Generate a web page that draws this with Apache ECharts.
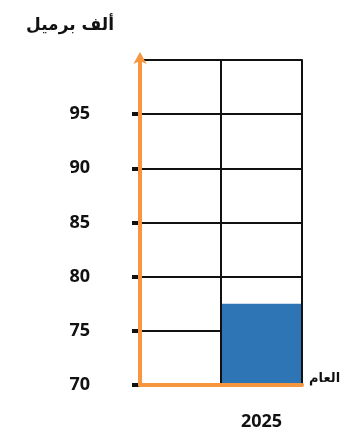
<!DOCTYPE html>
<html>
<head>
<meta charset="utf-8">
<script src="https://cdn.jsdelivr.net/npm/echarts@6/dist/echarts.min.js"></script>
<style>
  html, body { margin: 0; padding: 0; background: #fff; }
  #chart { width: 347px; height: 433px; }
</style>
</head>
<body>
<div id="chart"></div>
<script>
// Production in thousand barrels per year
const years = ['', '2025'];
const production = ['-', 77.5];
const yTicks = [70, 75, 80, 85, 90, 95];
const unitLabel = 'ألف برميل';
const yearLabel = 'العام';

const orange = '#f7963e';
const ink = '#111';
const chart = echarts.init(document.getElementById('chart'));
chart.setOption({
  animation: false,
  title: {
    text: unitLabel,
    left: 21,
    top: 12,
    textStyle: { fontFamily: 'DejaVu Sans', fontWeight: 'bold', fontSize: 17, color: ink }
  },
  grid: { left: 140, right: 45, top: 60, bottom: 48 },
  xAxis: [{
    type: 'category',
    data: years,
    name: yearLabel,
    nameLocation: 'end',
    nameGap: 7,
    nameTextStyle: { fontFamily: 'DejaVu Sans', fontWeight: 'bold', fontSize: 13, color: ink, verticalAlign: 'bottom' },
    axisLine: { show: true, lineStyle: { color: orange, width: 4 } },
    axisTick: { show: false },
    axisLabel: { margin: 28, fontFamily: 'Open Sans', fontWeight: 'bold', fontSize: 18, color: ink },
    splitLine: { show: true, lineStyle: { color: ink, width: 2 } },
    z: 3
  }, {
    // top border of the grid
    type: 'category',
    position: 'top',
    data: years,
    axisLine: { show: true, lineStyle: { color: ink, width: 2 } },
    axisTick: { show: false },
    axisLabel: { show: false },
    splitLine: { show: false },
    z: 1
  }],
  yAxis: [{
    type: 'value',
    min: 70,
    max: 100,
    interval: 5,
    axisLine: { show: false },
    axisTick: { show: true, customValues: yTicks, length: 8, lineStyle: { color: ink, width: 4 } },
    axisLabel: { customValues: yTicks, margin: 50, fontFamily: 'Open Sans', fontWeight: 'bold', fontSize: 18, color: ink },
    splitLine: { show: true, lineStyle: { color: ink, width: 2 } },
    z: 0
  }, {
    // orange value axis with arrow head, drawn above the grid lines
    type: 'value',
    position: 'left',
    min: 70,
    max: 100,
    interval: 5,
    axisLine: { show: true, onZero: false, symbol: ['none', 'arrow'], symbolSize: [10, 12], symbolOffset: [0, 8], lineStyle: { color: orange, width: 4 } },
    axisTick: { show: false },
    axisLabel: { show: false },
    splitLine: { show: false },
    z: 6
  }],
  series: [{
    type: 'bar',
    data: production,
    barWidth: '100%',
    itemStyle: { color: '#2e75b6' },
    z: 2
  }]
});
</script>
</body>
</html>
